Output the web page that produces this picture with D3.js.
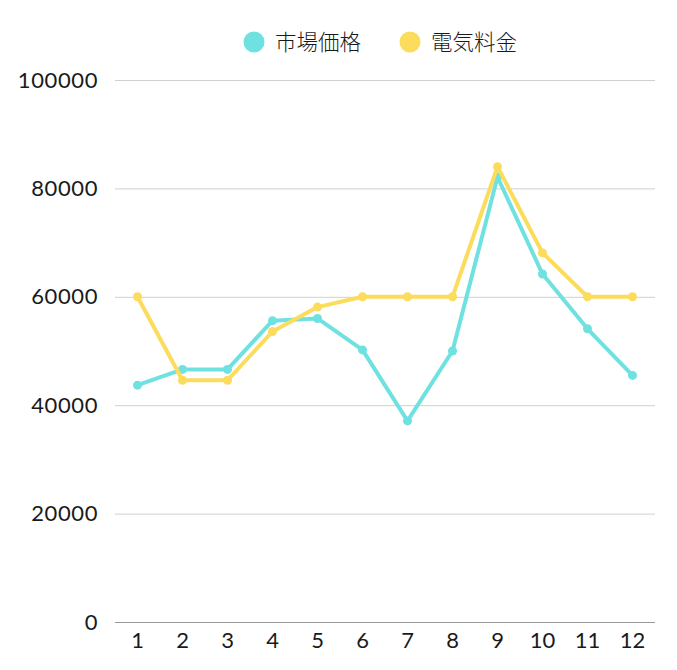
<!DOCTYPE html>
<html>
<head>
<meta charset="utf-8">
<script src="https://cdn.jsdelivr.net/npm/d3@7"></script>
<style>
  body { margin: 0; background: #fff; }
  svg text { font-family: Lato, "Noto Sans CJK JP", sans-serif; fill: #1a1a1a; }
</style>
</head>
<body>
<svg id="chart" width="677" height="670"></svg>
<script>
//Data
const months = ["1", "2", "3", "4", "5", "6", "7", "8", "9", "10", "11", "12"];
const marketPrice = [43700, 46600, 46600, 55600, 56000, 50200, 37100, 50000, 82100, 64200, 54100, 45500];
const electricityRate = [60000, 44600, 44600, 53600, 58100, 60000, 60000, 60000, 84000, 68100, 60000, 60000];
const yTicks = [0, 20000, 40000, 60000, 80000, 100000];
const seriesNames = ["市場価格", "電気料金"];
const seriesColors = ["#70e1e1", "#fcdc5c"];

//Measuring (px)
let plotLeft = 115, plotRight = 655, plotTop = 80, plotBottom = 622;

let svg = d3.select("#chart");

//Scales
let xScale = d3.scaleBand().domain(months).range([plotLeft, plotRight]).padding(0);
let yScale = d3.scaleLinear().domain([0, 100000]).range([plotBottom, plotTop]);

//Grid lines + y labels
svg.append("g")
  .attr("transform", `translate(${plotLeft},0)`)
  .call(d3.axisLeft(yScale).tickValues(yTicks).tickSize(-(plotRight - plotLeft)).tickPadding(17).tickFormat(d3.format("d")))
  .call(g => g.select(".domain").remove())
  .call(g => g.selectAll(".tick line").attr("stroke", (d) => d === 0 ? "#999" : "#d0d0d0").attr("stroke-width", 1))
  .call(g => g.selectAll(".tick text")
    .style("font-size", "22px").style("letter-spacing", "0.6px")
    .attr("fill", "#1a1a1a"));

//x-axis labels
svg.append("g")
  .attr("transform", `translate(0,${plotBottom})`)
  .call(d3.axisBottom(xScale).tickSize(0).tickPadding(10))
  .call(g => g.select(".domain").remove())
  .call(g => g.selectAll(".tick text")
    .style("font-size", "22px")
    .attr("fill", "#1a1a1a"));

//Lines
let line = d3.line()
  .x((d, i) => xScale(months[i]) + xScale.bandwidth() / 2)
  .y((d) => yScale(d));

[marketPrice, electricityRate].forEach((values, s) => {
  let g = svg.append("g");
  g.append("path")
    .datum(values)
    .attr("fill", "none")
    .attr("stroke", seriesColors[s])
    .attr("stroke-width", 4)
    .attr("stroke-linejoin", "round")
    .attr("d", line);
  g.selectAll("circle")
    .data(values)
    .enter()
    .append("circle")
    .attr("cx", (d, i) => xScale(months[i]) + xScale.bandwidth() / 2)
    .attr("cy", (d) => yScale(d))
    .attr("r", 4.5)
    .attr("fill", seriesColors[s]);
});

//Legend
let legendX = [254, 410];
seriesNames.forEach((name, i) => {
  svg.append("circle")
    .attr("cx", legendX[i])
    .attr("cy", 42)
    .attr("r", 10.5)
    .attr("fill", seriesColors[i]);
  svg.append("text")
    .attr("x", legendX[i] + 21)
    .attr("y", 42)
    .attr("dy", "0.36em")
    .style("font-size", "21.5px")
    .style("font-weight", "300")
    .style("font-family", "'Noto Sans CJK JP', sans-serif")
    .attr("fill", "#111")
    .text(name);
});
</script>
</body>
</html>
